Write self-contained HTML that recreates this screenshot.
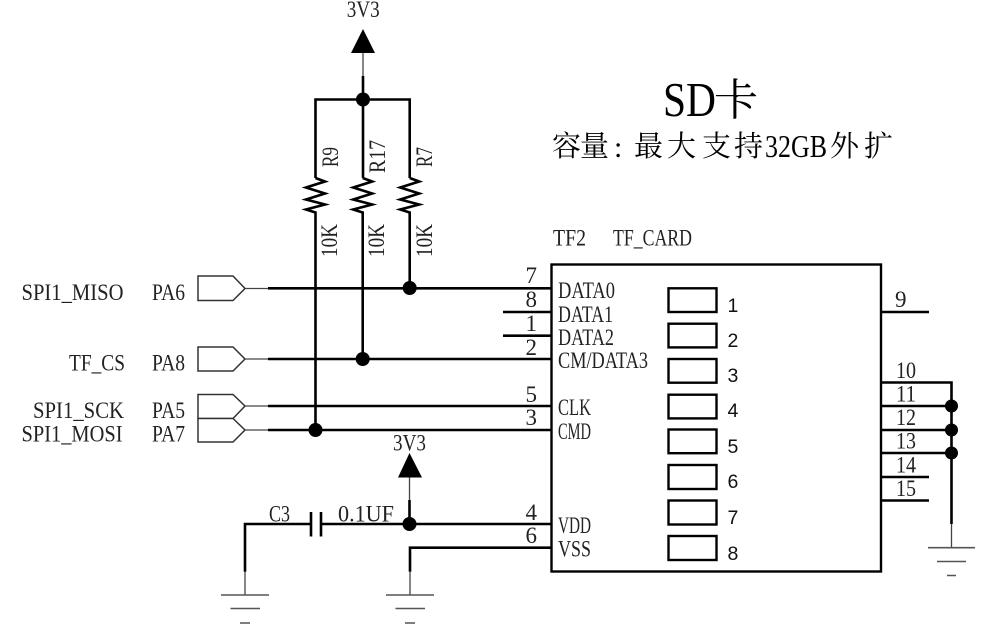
<!DOCTYPE html>
<html><head><meta charset="utf-8"><style>
html,body{margin:0;padding:0;background:#fff;width:983px;height:630px;overflow:hidden}
svg{display:block;filter:blur(0.35px)}
text{font-family:"Liberation Serif","Noto Serif CJK SC",serif;font-size:23px;fill:#222;}
.w{stroke:#000;stroke-width:2.6;fill:none}
.t{stroke:#444;stroke-width:1.3;fill:none}
.g{stroke:#555;stroke-width:1.6;fill:none}
.p{stroke:#333;stroke-width:1.5;fill:#fff}
text.n{font-family:"Liberation Sans",sans-serif;font-size:19.5px;fill:#111}
text.c{font-family:"Noto Serif CJK SC","Liberation Serif",serif;font-size:29px;fill:#000}
</style></head><body>
<svg width="983" height="630" viewBox="0 0 983 630" xmlns="http://www.w3.org/2000/svg">
<!-- top power -->
<polygon points="363,29 351,53 375,53" fill="#000"/>
<path class="t" d="M363 53V76"/>
<path class="w" d="M363 76V99.5M315.5 178V99.5H409.7V178M363 99.5V178"/>
<path class="w" d="M315.5 178l9.500 3.500-19 6 19 6-19 6 19 5-19 5 9.500 3V430"/>
<path class="w" d="M362.700 178l9.500 3.500-19 6 19 6-19 6 19 5-19 5 9.500 3V359"/>
<path class="w" d="M409.700 178l9.500 3.500-19 6 19 6-19 6 19 5-19 5 9.500 3V288"/>
<circle cx="363" cy="99.500" r="7"/>
<circle cx="409.700" cy="288" r="7"/>
<circle cx="362.700" cy="359" r="7"/>
<circle cx="315.500" cy="430" r="7"/>
<!-- ports -->
<path class="p" d="M198 276H233L245 288.500 233 300.500H198Z"/>
<path class="p" d="M198 347H233L245 359 233 371H198Z"/>
<path class="p" d="M198 394.500H233L245 406 233 418.500H198Z"/>
<path class="p" d="M198 418.500H233L245 430 233 442H198Z"/>
<path class="t" d="M245 288.500H268M245 359H268M245 406H268M245 430H268"/>
<path class="w" d="M268 288.300H552M268 359H552M268 406H552M268 430H552M503 312H552M503 335.700H552"/>
<!-- box -->
<rect x="551.500" y="264.500" width="329.500" height="307" fill="none" stroke="#000" stroke-width="2.400"/>
<g fill="none" stroke="#000" stroke-width="2.400">
<rect x="668.500" y="288.300" width="48" height="23.700"/>
<rect x="668.500" y="323.700" width="48" height="23.700"/>
<rect x="668.500" y="359" width="48" height="23.700"/>
<rect x="668.500" y="394.700" width="48" height="23.700"/>
<rect x="668.500" y="429.500" width="48" height="23.700"/>
<rect x="668.500" y="465" width="48" height="24"/>
<rect x="668.500" y="500.500" width="48" height="24"/>
<rect x="668.500" y="536" width="48" height="24"/>
</g>
<!-- bottom left -->
<polygon points="409.500,453 398,477.500 422,477.500" fill="#000"/>
<path class="t" d="M409.500 477.500V500"/>
<path class="w" d="M409.500 500V524M245 571.700V524H311M321 524H552M410 571.700V547.700H552M311 512V536.500M321 512V536.500"/>
<circle cx="409.500" cy="524" r="7"/>
<path class="t" d="M245 571.700V595M410 571.700V595"/>
<path class="g" d="M221 595H269M230.500 608.500H260M240 623H250M386 595H434M395.500 608.500H425M405 623H415"/>
<!-- right side -->
<path class="w" d="M881 312H929M881 382.500H951.500V524M881 406H951M881 430H951M881 453H951M881 477H929M881 500.500H929"/>
<circle cx="951.500" cy="406" r="6.500"/>
<circle cx="951.500" cy="430" r="6.500"/>
<circle cx="951.500" cy="453" r="6.500"/>
<path class="t" d="M951.500 524V547.700"/>
<path class="g" d="M928 547.700H975M937 561.500H966M947 575.500H956"/>
<!-- left labels -->
<text x="21.500" y="300" textLength="102" lengthAdjust="spacingAndGlyphs">SPI1_MISO</text>
<text x="152" y="300" textLength="33" lengthAdjust="spacingAndGlyphs">PA6</text>
<text x="69" y="370.700" textLength="56" lengthAdjust="spacingAndGlyphs">TF_CS</text>
<text x="152" y="370.700" textLength="33" lengthAdjust="spacingAndGlyphs">PA8</text>
<text x="33" y="418" textLength="91" lengthAdjust="spacingAndGlyphs">SPI1_SCK</text>
<text x="152" y="418" textLength="33" lengthAdjust="spacingAndGlyphs">PA5</text>
<text x="21.500" y="441.700" textLength="101" lengthAdjust="spacingAndGlyphs">SPI1_MOSI</text>
<text x="152" y="441.700" textLength="33" lengthAdjust="spacingAndGlyphs">PA7</text>
<!-- power labels -->
<text x="346.700" y="17" textLength="33" lengthAdjust="spacingAndGlyphs">3V3</text>
<text x="393" y="450.700" textLength="33" lengthAdjust="spacingAndGlyphs">3V3</text>
<text x="269" y="521.700" textLength="21" lengthAdjust="spacingAndGlyphs">C3</text>
<text x="338" y="521.700" textLength="56" lengthAdjust="spacingAndGlyphs">0.1UF</text>
<!-- rotated -->
<text transform="translate(338 167) rotate(-90)" textLength="20" lengthAdjust="spacingAndGlyphs">R9</text>
<text transform="translate(385 173) rotate(-90)" textLength="33" lengthAdjust="spacingAndGlyphs">R17</text>
<text transform="translate(432 167) rotate(-90)" textLength="20" lengthAdjust="spacingAndGlyphs">R7</text>
<text transform="translate(337 257) rotate(-90)" textLength="33" lengthAdjust="spacingAndGlyphs">10K</text>
<text transform="translate(384 257) rotate(-90)" textLength="33" lengthAdjust="spacingAndGlyphs">10K</text>
<text transform="translate(432 257) rotate(-90)" textLength="33" lengthAdjust="spacingAndGlyphs">10K</text>
<!-- pin numbers left -->
<text x="525.500" y="283">7</text>
<text x="525.500" y="307">8</text>
<text x="525.500" y="331">1</text>
<text x="525.500" y="355">2</text>
<text x="525.500" y="402">5</text>
<text x="525.500" y="425">3</text>
<text x="525.500" y="520">4</text>
<text x="525.500" y="543">6</text>
<!-- chip labels -->
<text x="553" y="245.700" textLength="33" lengthAdjust="spacingAndGlyphs">TF2</text>
<text x="613" y="245.700" textLength="79" lengthAdjust="spacingAndGlyphs">TF_CARD</text>
<text x="558" y="298" textLength="57" lengthAdjust="spacingAndGlyphs">DATA0</text>
<text x="558" y="322" textLength="55" lengthAdjust="spacingAndGlyphs">DATA1</text>
<text x="558" y="345" textLength="56" lengthAdjust="spacingAndGlyphs">DATA2</text>
<text x="558" y="368" textLength="90" lengthAdjust="spacingAndGlyphs">CM/DATA3</text>
<text x="558" y="415" textLength="33" lengthAdjust="spacingAndGlyphs">CLK</text>
<text x="558" y="439" textLength="33" lengthAdjust="spacingAndGlyphs">CMD</text>
<text x="558" y="533" textLength="33" lengthAdjust="spacingAndGlyphs">VDD</text>
<text x="558" y="556.700" textLength="33" lengthAdjust="spacingAndGlyphs">VSS</text>
<!-- inner numbers -->
<text class="n" x="727.500" y="312">1</text>
<text class="n" x="727.500" y="347">2</text>
<text class="n" x="727.500" y="382">3</text>
<text class="n" x="727.500" y="417">4</text>
<text class="n" x="727.500" y="453">5</text>
<text class="n" x="727.500" y="488">6</text>
<text class="n" x="727.500" y="524">7</text>
<text class="n" x="727.500" y="560">8</text>
<!-- right numbers -->
<text x="895" y="307">9</text>
<text x="896" y="378" textLength="20" lengthAdjust="spacingAndGlyphs">10</text>
<text x="896" y="401.700" textLength="20" lengthAdjust="spacingAndGlyphs">11</text>
<text x="896" y="425" textLength="20" lengthAdjust="spacingAndGlyphs">12</text>
<text x="896" y="448.500" textLength="20" lengthAdjust="spacingAndGlyphs">13</text>
<text x="896" y="472.500" textLength="20" lengthAdjust="spacingAndGlyphs">14</text>
<text x="896" y="496" textLength="20" lengthAdjust="spacingAndGlyphs">15</text>
<!-- title -->
<text x="663" y="116" style="font-size:49px;fill:#000" textLength="53" lengthAdjust="spacingAndGlyphs">SD</text>
<text x="714" y="115" style="font-size:44px" class="c">卡</text>
<text class="c" x="552" y="156">容</text>
<text class="c" x="580" y="156">量</text>
<text x="614" y="157" style="font-size:30px;fill:#000">:</text>
<text class="c" x="634" y="156">最</text>
<text class="c" x="667" y="156">大</text>
<text class="c" x="702" y="156">支</text>
<text class="c" x="734" y="156">持</text>
<text x="765" y="157" style="font-size:32px;fill:#000" textLength="62" lengthAdjust="spacingAndGlyphs">32GB</text>
<text class="c" x="830" y="156">外</text>
<text class="c" x="864" y="156">扩</text>
</svg>
</body></html>
